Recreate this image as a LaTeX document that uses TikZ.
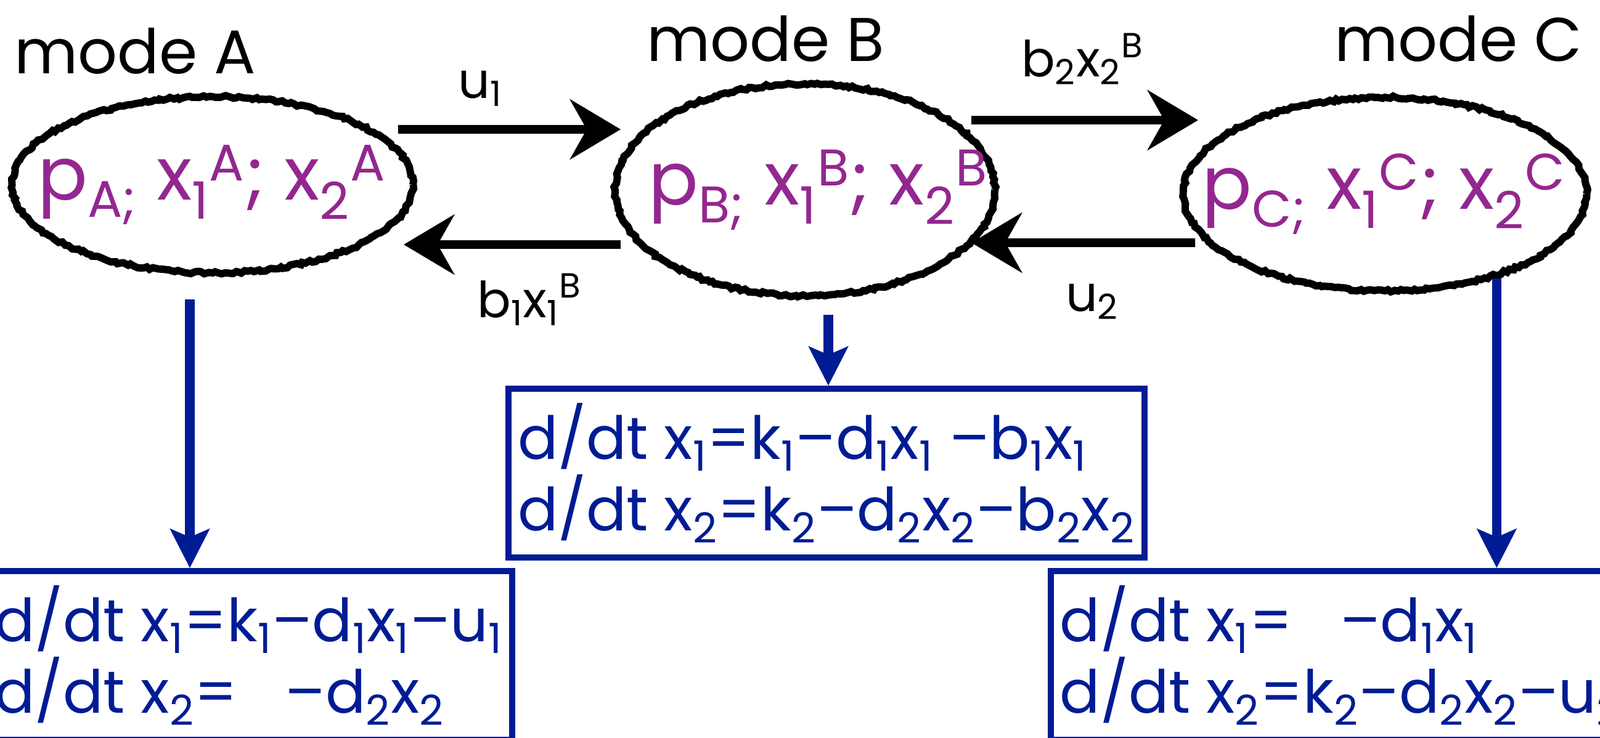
\documentclass[tikz,border=0pt]{standalone}
\usepackage{fontspec}
\setmainfont{Poppins}
\usepackage{tikz}
\usetikzlibrary{
  arrows.meta, positioning, calc, shapes.geometric, decorations.pathmorphing
}
\definecolor{eqblue}{HTML}{001C94}
\definecolor{statepurple}{HTML}{93278F}
\newcommand{\lo}[1]{\textsubscript{#1}}
\newcommand{\hi}[1]{\textsuperscript{#1}}

\begin{document}
\begin{tikzpicture}[
  mode/.style={ellipse, draw, line width=3.4pt, inner sep=0pt,
    decorate, decoration={random steps, segment length=1.5pt, amplitude=0.6pt}},
  state/.style={font=\fontsize{34}{40}\selectfont, text=statepurple, inner sep=0pt},
  title/.style={font=\fontsize{28.5}{34}\selectfont, inner sep=0pt},
  rate/.style={font=\fontsize{23}{28}\selectfont, inner sep=0pt},
  flow/.style={line width=4pt, -{Stealth[length=8.2mm, width=9.7mm, inset=2.7mm]}},
  eqbox/.style={draw=eqblue, line width=2.8pt, text=eqblue, align=left,
    inner sep=1.5mm, minimum height=2.74cm, font=\fontsize{27.5}{33}\selectfont},
  down/.style={eqblue, line width=4.4pt, -{Stealth[length=6.3mm, width=6.3mm, inset=1.3mm]}}
]
  \useasboundingbox (0,0) rectangle (25.96,-11.97);

  % Modes
  \node[mode, minimum width=6.50cm, minimum height=2.86cm] (ellA) at (3.45,-3.00) {};
  \node[mode, minimum width=6.16cm, minimum height=3.44cm] (ellB) at (13.06,-3.08) {};
  \node[mode, minimum width=6.54cm, minimum height=3.14cm] (ellC) at (22.47,-3.15) {};
  \node[state] (stA) at (3.44,-3.00) {p\lo{A;} x\lo{1}\hi{A}; x\lo{2}\hi{A}};
  \node[state] (stB) at (13.28,-3.08) {p\lo{B;} x\lo{1}\hi{B}; x\lo{2}\hi{B}};
  \node[state] (stC) at (22.46,-3.15) {p\lo{C;} x\lo{1}\hi{C}; x\lo{2}\hi{C}};
  \node[title] (modeA) at (2.19,-0.83) {mode A};
  \node[title] (modeB) at (12.42,-0.63) {mode B};
  \node[title] (modeC) at (23.66,-0.63) {mode C};

  % Switching between modes
  \draw[flow] ([shift={(-0.30,0.90)}]ellA.east) -- ([shift={(0.15,0.98)}]ellB.west)
    node[rate, pos=0.37, above=3mm] (lu1) {u\lo{1}};
  \draw[flow] ([shift={(0.15,-0.89)}]ellB.west) -- ([shift={(-0.21,-0.97)}]ellA.east)
    node[rate, pos=0.42, below=4mm] (lb1) {b\lo{1}x\lo{1}\hi{B}};
  \draw[flow] ([shift={(-0.44,1.13)}]ellB.east) -- ([shift={(0.30,1.20)}]ellC.west)
    node[rate, pos=0.49, above=5mm] (lb2) {b\lo{2}x\lo{2}\hi{B}};
  \draw[flow] ([shift={(0.25,-0.79)}]ellC.west) -- ([shift={(-0.44,-0.86)}]ellB.east)
    node[rate, pos=0.46, below=6mm] (lu2) {u\lo{2}};

  % Dynamics in each mode
  \node[eqbox, anchor=north east] (eqA) at (8.36,-9.22)
    {d/dt x\lo{1}=k\lo{1}--d\lo{1}x\lo{1}--u\lo{1}\\
     d/dt x\lo{2}=\hspace{0.8em}--d\lo{2}x\lo{2}};
  \node[eqbox, anchor=north] (eqB) at (13.41,-6.26)
    {d/dt x\lo{1}=k\lo{1}--d\lo{1}x\lo{1} --b\lo{1}x\lo{1}\\
     d/dt x\lo{2}=k\lo{2}--d\lo{2}x\lo{2}--b\lo{2}x\lo{2}};
  \node[eqbox, anchor=north west] (eqC) at (17.00,-9.22)
    {d/dt x\lo{1}=\hspace{0.8em}--d\lo{1}x\lo{1}\\
     d/dt x\lo{2}=k\lo{2}--d\lo{2}x\lo{2}--u\lo{2}};

  \coordinate (dA) at ([shift={(-0.37,-0.37)}]ellA.south);
  \coordinate (dB) at ([shift={(0.38,-0.25)}]ellB.south);
  \coordinate (dC) at (ellC.-37);
  \draw[down] (dA) -- (dA |- eqA.north);
  \draw[down] (dB) -- (dB |- eqB.north);
  \draw[down] (dC) -- (dC |- eqC.north);
\end{tikzpicture}
\end{document}
